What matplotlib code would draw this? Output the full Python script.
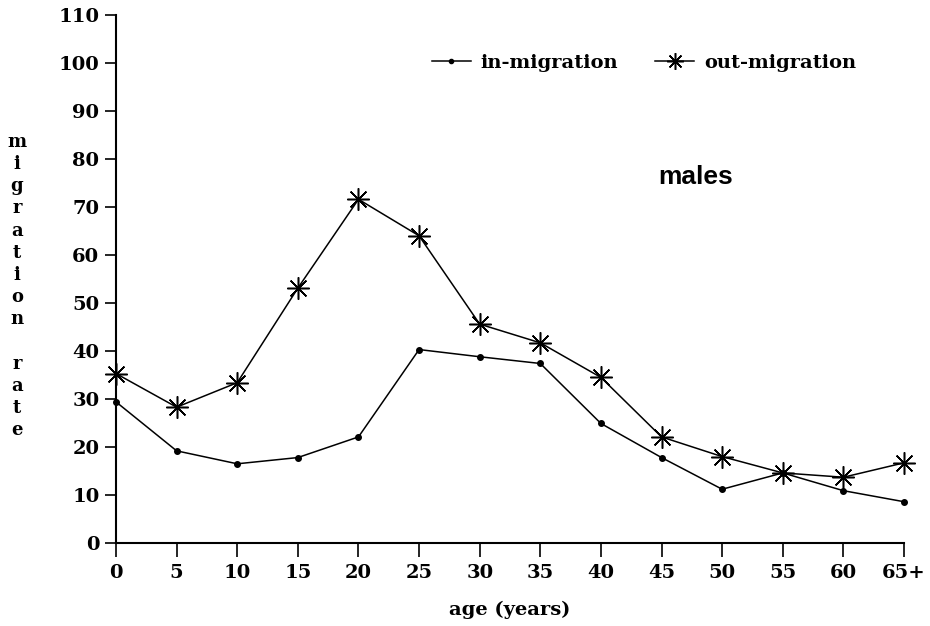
import numpy as np
import matplotlib.pyplot as plt

ages = ['0', '5', '10', '15', '20', '25', '30', '35', '40', '45', '50', '55', '60', '65+']
in_migration = [29.4, 19.2, 16.5, 17.8, 22.1, 40.3, 38.8, 37.4, 24.9, 17.8, 11.2, 14.6, 10.9, 8.6]
out_migration = [35.3, 28.3, 33.4, 53.1, 71.6, 64.0, 45.6, 41.7, 34.5, 22.1, 18.0, 14.6, 13.7, 16.7]
y_ticks = list(range(0, 111, 10))

serif = 'DejaVu Serif'

fig = plt.figure(figsize=(9.3, 6.26), dpi=100)
ax = fig.add_axes([116 / 930, 1 - 543 / 626, (904 - 116) / 930, (543 - 15) / 626])

x = np.arange(len(ages))
ax.plot(x, in_migration, color='black', linewidth=1.1, marker='o', markersize=4,
        label='in-migration', clip_on=False)
ax.plot(x, out_migration, color='black', linewidth=1.1, marker=(8, 2, 0), markersize=16,
        markeredgewidth=1.1, label='out-migration', clip_on=False)

ax.set_xlim(0, len(ages) - 1)
ax.set_ylim(0, 110)
ax.set_xticks(x)
ax.set_xticklabels(ages, fontsize=14, fontweight='bold', family=serif)
ax.set_yticks(y_ticks)
ax.set_yticklabels([str(v) for v in y_ticks], fontsize=14, fontweight='bold', family=serif)
ax.tick_params(axis='x', direction='out', length=10, width=1.2, pad=5)
ax.tick_params(axis='y', direction='out', length=8, width=1.2, pad=4)
for side in ['top', 'right']:
    ax.spines[side].set_visible(False)
for side in ['left', 'bottom']:
    ax.spines[side].set_linewidth(1.5)

fig.text(510 / 930, 1 - 610 / 626, 'age (years)', ha='center', va='center',
         fontsize=14, fontweight='bold', family=serif)

ylab = '\n'.join(list('migration rate'))
fig.text(17 / 930, 1 - 286 / 626, ylab, ha='center', va='center', fontsize=13,
         fontweight='bold', family=serif, linespacing=1.3)

ax.text(47.8 / 5, 76.2, 'males', ha='center', va='center', fontsize=19,
        fontweight='bold', family='Liberation Sans')

ax.legend(loc='center left', bbox_to_anchor=(432 / 930, 1 - 63 / 626),
          bbox_transform=fig.transFigure, ncol=2, frameon=False, borderpad=0,
          borderaxespad=0, handlelength=2.0, handletextpad=0.5, columnspacing=1.9,
          markerscale=0.75, prop={'family': serif, 'weight': 'bold', 'size': 14})

fig.savefig('out.png', dpi=100)
